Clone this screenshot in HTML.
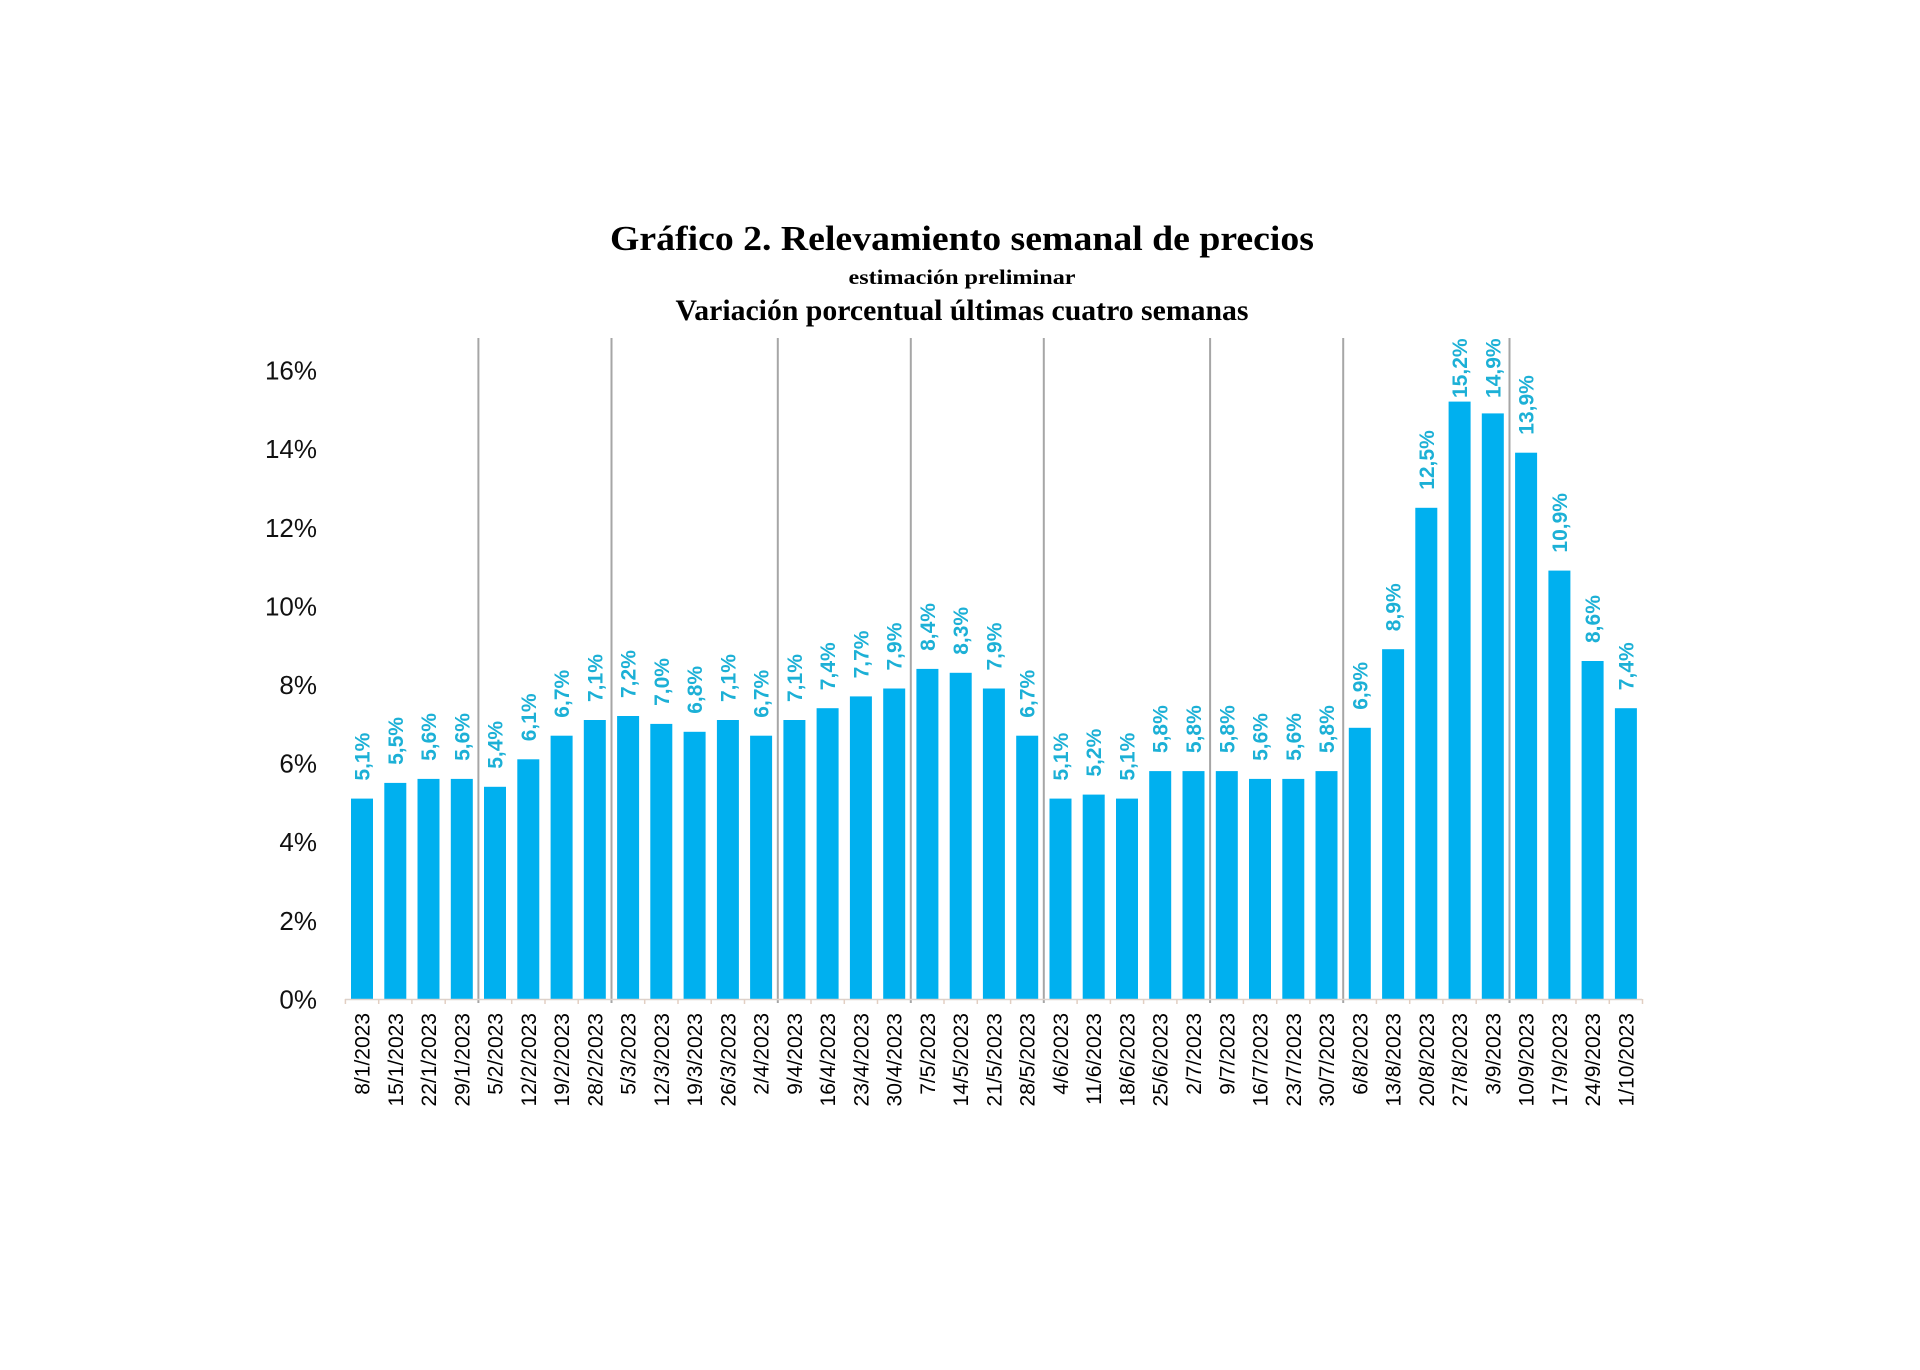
<!DOCTYPE html>
<html>
<head>
<meta charset="utf-8">
<style>
html,body{margin:0;padding:0;background:#ffffff;}
body{width:1920px;height:1370px;overflow:hidden;}
svg{display:block;}
.t{font-family:"Liberation Serif",serif;font-weight:bold;fill:#000;}
.yl{font-family:"Liberation Sans",sans-serif;font-size:26px;fill:#111;text-anchor:end;}
.vl{font-family:"Liberation Sans",sans-serif;font-size:21px;font-weight:bold;fill:#1cb0d6;}
.dl{font-family:"Liberation Sans",sans-serif;font-size:21px;fill:#000;text-anchor:end;}
.b{fill:#00b0ef;}
</style>
</head>
<body>
<svg width="1920" height="1370" viewBox="0 0 1920 1370" xmlns="http://www.w3.org/2000/svg">
<rect width="1920" height="1370" fill="#fff"/>

<!-- Titles -->
<text class="t" x="962" y="250" font-size="35" text-anchor="middle" textLength="704" lengthAdjust="spacingAndGlyphs">Gráfico 2. Relevamiento semanal de precios</text>
<text class="t" x="962" y="284" font-size="21" text-anchor="middle" textLength="227" lengthAdjust="spacingAndGlyphs">estimación preliminar</text>
<text class="t" x="962" y="320" font-size="30" text-anchor="middle" textLength="573" lengthAdjust="spacingAndGlyphs">Variación porcentual últimas cuatro semanas</text>

<!-- Y labels -->
<text class="yl" x="317" y="1008.4">0%</text>
<text class="yl" x="317" y="929.8">2%</text>
<text class="yl" x="317" y="851.2">4%</text>
<text class="yl" x="317" y="772.6">6%</text>
<text class="yl" x="317" y="694">8%</text>
<text class="yl" x="317" y="615.4">10%</text>
<text class="yl" x="317" y="536.8">12%</text>
<text class="yl" x="317" y="458.2">14%</text>
<text class="yl" x="317" y="379.6">16%</text>

<!-- Separators -->
<g stroke="#a6a6a6" stroke-width="2">
<line x1="478.4" y1="338" x2="478.4" y2="1003"/>
<line x1="611.5" y1="338" x2="611.5" y2="1003"/>
<line x1="777.8" y1="338" x2="777.8" y2="1003"/>
<line x1="910.8" y1="338" x2="910.8" y2="1003"/>
<line x1="1043.8" y1="338" x2="1043.8" y2="1003"/>
<line x1="1210.1" y1="338" x2="1210.1" y2="1003"/>
<line x1="1343.2" y1="338" x2="1343.2" y2="1003"/>
<line x1="1509.5" y1="338" x2="1509.5" y2="1003"/>
</g>

<!-- Bars -->
<g class="b">
<rect x="351.0" y="798.6" width="22" height="200.4"/>
<rect x="384.3" y="782.9" width="22" height="216.1"/>
<rect x="417.5" y="778.9" width="22" height="220.1"/>
<rect x="450.8" y="778.9" width="22" height="220.1"/>
<rect x="484.0" y="786.8" width="22" height="212.2"/>
<rect x="517.3" y="759.3" width="22" height="239.7"/>
<rect x="550.6" y="735.7" width="22" height="263.3"/>
<rect x="583.8" y="720.0" width="22" height="279.0"/>
<rect x="617.1" y="716.0" width="22" height="283.0"/>
<rect x="650.3" y="723.9" width="22" height="275.1"/>
<rect x="683.6" y="731.8" width="22" height="267.2"/>
<rect x="716.9" y="720.0" width="22" height="279.0"/>
<rect x="750.1" y="735.7" width="22" height="263.3"/>
<rect x="783.4" y="720.0" width="22" height="279.0"/>
<rect x="816.6" y="708.2" width="22" height="290.8"/>
<rect x="849.9" y="696.4" width="22" height="302.6"/>
<rect x="883.2" y="688.5" width="22" height="310.5"/>
<rect x="916.4" y="668.9" width="22" height="330.1"/>
<rect x="949.7" y="672.8" width="22" height="326.2"/>
<rect x="982.9" y="688.5" width="22" height="310.5"/>
<rect x="1016.2" y="735.7" width="22" height="263.3"/>
<rect x="1049.5" y="798.6" width="22" height="200.4"/>
<rect x="1082.7" y="794.6" width="22" height="204.4"/>
<rect x="1116.0" y="798.6" width="22" height="200.4"/>
<rect x="1149.2" y="771.1" width="22" height="227.9"/>
<rect x="1182.5" y="771.1" width="22" height="227.9"/>
<rect x="1215.8" y="771.1" width="22" height="227.9"/>
<rect x="1249.0" y="778.9" width="22" height="220.1"/>
<rect x="1282.3" y="778.9" width="22" height="220.1"/>
<rect x="1315.5" y="771.1" width="22" height="227.9"/>
<rect x="1348.8" y="727.8" width="22" height="271.2"/>
<rect x="1382.1" y="649.2" width="22" height="349.8"/>
<rect x="1415.3" y="507.8" width="22" height="491.2"/>
<rect x="1448.6" y="401.6" width="22" height="597.4"/>
<rect x="1481.8" y="413.4" width="22" height="585.6"/>
<rect x="1515.1" y="452.7" width="22" height="546.3"/>
<rect x="1548.4" y="570.6" width="22" height="428.4"/>
<rect x="1581.6" y="661.0" width="22" height="338.0"/>
<rect x="1614.9" y="708.2" width="22" height="290.8"/>
</g>

<!-- X axis -->
<line x1="345" y1="999.5" x2="1642" y2="999.5" stroke="#dcd2cc" stroke-width="1.5"/>
<g stroke="#e2cfc2" stroke-width="1.5">
<line x1="345.4" y1="999" x2="345.4" y2="1004"/>
<line x1="378.7" y1="999" x2="378.7" y2="1004"/>
<line x1="411.9" y1="999" x2="411.9" y2="1004"/>
<line x1="445.2" y1="999" x2="445.2" y2="1004"/>
<line x1="511.7" y1="999" x2="511.7" y2="1004"/>
<line x1="545.0" y1="999" x2="545.0" y2="1004"/>
<line x1="578.2" y1="999" x2="578.2" y2="1004"/>
<line x1="644.7" y1="999" x2="644.7" y2="1004"/>
<line x1="678.0" y1="999" x2="678.0" y2="1004"/>
<line x1="711.2" y1="999" x2="711.2" y2="1004"/>
<line x1="744.5" y1="999" x2="744.5" y2="1004"/>
<line x1="811.0" y1="999" x2="811.0" y2="1004"/>
<line x1="844.3" y1="999" x2="844.3" y2="1004"/>
<line x1="877.5" y1="999" x2="877.5" y2="1004"/>
<line x1="944.0" y1="999" x2="944.0" y2="1004"/>
<line x1="977.3" y1="999" x2="977.3" y2="1004"/>
<line x1="1010.6" y1="999" x2="1010.6" y2="1004"/>
<line x1="1077.1" y1="999" x2="1077.1" y2="1004"/>
<line x1="1110.4" y1="999" x2="1110.4" y2="1004"/>
<line x1="1143.6" y1="999" x2="1143.6" y2="1004"/>
<line x1="1176.9" y1="999" x2="1176.9" y2="1004"/>
<line x1="1243.4" y1="999" x2="1243.4" y2="1004"/>
<line x1="1276.7" y1="999" x2="1276.7" y2="1004"/>
<line x1="1309.9" y1="999" x2="1309.9" y2="1004"/>
<line x1="1376.4" y1="999" x2="1376.4" y2="1004"/>
<line x1="1409.7" y1="999" x2="1409.7" y2="1004"/>
<line x1="1442.9" y1="999" x2="1442.9" y2="1004"/>
<line x1="1476.2" y1="999" x2="1476.2" y2="1004"/>
<line x1="1542.7" y1="999" x2="1542.7" y2="1004"/>
<line x1="1576.0" y1="999" x2="1576.0" y2="1004"/>
<line x1="1609.3" y1="999" x2="1609.3" y2="1004"/>
<line x1="1642.5" y1="999" x2="1642.5" y2="1004"/>
</g>

<!-- Value labels -->
<g class="vl">
<text transform="translate(369.5,780.6) rotate(-90)">5,1%</text>
<text transform="translate(402.8,764.9) rotate(-90)">5,5%</text>
<text transform="translate(436.0,760.9) rotate(-90)">5,6%</text>
<text transform="translate(469.3,760.9) rotate(-90)">5,6%</text>
<text transform="translate(502.5,768.8) rotate(-90)">5,4%</text>
<text transform="translate(535.8,741.3) rotate(-90)">6,1%</text>
<text transform="translate(569.1,717.7) rotate(-90)">6,7%</text>
<text transform="translate(602.3,702.0) rotate(-90)">7,1%</text>
<text transform="translate(635.6,698.0) rotate(-90)">7,2%</text>
<text transform="translate(668.8,705.9) rotate(-90)">7,0%</text>
<text transform="translate(702.1,713.8) rotate(-90)">6,8%</text>
<text transform="translate(735.4,702.0) rotate(-90)">7,1%</text>
<text transform="translate(768.6,717.7) rotate(-90)">6,7%</text>
<text transform="translate(801.9,702.0) rotate(-90)">7,1%</text>
<text transform="translate(835.1,690.2) rotate(-90)">7,4%</text>
<text transform="translate(868.4,678.4) rotate(-90)">7,7%</text>
<text transform="translate(901.7,670.5) rotate(-90)">7,9%</text>
<text transform="translate(934.9,650.9) rotate(-90)">8,4%</text>
<text transform="translate(968.2,654.8) rotate(-90)">8,3%</text>
<text transform="translate(1001.4,670.5) rotate(-90)">7,9%</text>
<text transform="translate(1034.7,717.7) rotate(-90)">6,7%</text>
<text transform="translate(1068.0,780.6) rotate(-90)">5,1%</text>
<text transform="translate(1101.2,776.6) rotate(-90)">5,2%</text>
<text transform="translate(1134.5,780.6) rotate(-90)">5,1%</text>
<text transform="translate(1167.7,753.1) rotate(-90)">5,8%</text>
<text transform="translate(1201.0,753.1) rotate(-90)">5,8%</text>
<text transform="translate(1234.3,753.1) rotate(-90)">5,8%</text>
<text transform="translate(1267.5,760.9) rotate(-90)">5,6%</text>
<text transform="translate(1300.8,760.9) rotate(-90)">5,6%</text>
<text transform="translate(1334.0,753.1) rotate(-90)">5,8%</text>
<text transform="translate(1367.3,709.8) rotate(-90)">6,9%</text>
<text transform="translate(1400.6,631.2) rotate(-90)">8,9%</text>
<text transform="translate(1433.8,489.8) rotate(-90)">12,5%</text>
<text transform="translate(1467.1,398.0) rotate(-90)">15,2%</text>
<text transform="translate(1500.3,398.0) rotate(-90)">14,9%</text>
<text transform="translate(1533.6,434.7) rotate(-90)">13,9%</text>
<text transform="translate(1566.9,552.6) rotate(-90)">10,9%</text>
<text transform="translate(1600.1,643.0) rotate(-90)">8,6%</text>
<text transform="translate(1633.4,690.2) rotate(-90)">7,4%</text>
</g>

<!-- Date labels -->
<g class="dl">
<text transform="translate(369.5,1013) rotate(-90)">8/1/2023</text>
<text transform="translate(402.8,1013) rotate(-90)">15/1/2023</text>
<text transform="translate(436.0,1013) rotate(-90)">22/1/2023</text>
<text transform="translate(469.3,1013) rotate(-90)">29/1/2023</text>
<text transform="translate(502.5,1013) rotate(-90)">5/2/2023</text>
<text transform="translate(535.8,1013) rotate(-90)">12/2/2023</text>
<text transform="translate(569.1,1013) rotate(-90)">19/2/2023</text>
<text transform="translate(602.3,1013) rotate(-90)">28/2/2023</text>
<text transform="translate(635.6,1013) rotate(-90)">5/3/2023</text>
<text transform="translate(668.8,1013) rotate(-90)">12/3/2023</text>
<text transform="translate(702.1,1013) rotate(-90)">19/3/2023</text>
<text transform="translate(735.4,1013) rotate(-90)">26/3/2023</text>
<text transform="translate(768.6,1013) rotate(-90)">2/4/2023</text>
<text transform="translate(801.9,1013) rotate(-90)">9/4/2023</text>
<text transform="translate(835.1,1013) rotate(-90)">16/4/2023</text>
<text transform="translate(868.4,1013) rotate(-90)">23/4/2023</text>
<text transform="translate(901.7,1013) rotate(-90)">30/4/2023</text>
<text transform="translate(934.9,1013) rotate(-90)">7/5/2023</text>
<text transform="translate(968.2,1013) rotate(-90)">14/5/2023</text>
<text transform="translate(1001.4,1013) rotate(-90)">21/5/2023</text>
<text transform="translate(1034.7,1013) rotate(-90)">28/5/2023</text>
<text transform="translate(1068.0,1013) rotate(-90)">4/6/2023</text>
<text transform="translate(1101.2,1013) rotate(-90)">11/6/2023</text>
<text transform="translate(1134.5,1013) rotate(-90)">18/6/2023</text>
<text transform="translate(1167.7,1013) rotate(-90)">25/6/2023</text>
<text transform="translate(1201.0,1013) rotate(-90)">2/7/2023</text>
<text transform="translate(1234.3,1013) rotate(-90)">9/7/2023</text>
<text transform="translate(1267.5,1013) rotate(-90)">16/7/2023</text>
<text transform="translate(1300.8,1013) rotate(-90)">23/7/2023</text>
<text transform="translate(1334.0,1013) rotate(-90)">30/7/2023</text>
<text transform="translate(1367.3,1013) rotate(-90)">6/8/2023</text>
<text transform="translate(1400.6,1013) rotate(-90)">13/8/2023</text>
<text transform="translate(1433.8,1013) rotate(-90)">20/8/2023</text>
<text transform="translate(1467.1,1013) rotate(-90)">27/8/2023</text>
<text transform="translate(1500.3,1013) rotate(-90)">3/9/2023</text>
<text transform="translate(1533.6,1013) rotate(-90)">10/9/2023</text>
<text transform="translate(1566.9,1013) rotate(-90)">17/9/2023</text>
<text transform="translate(1600.1,1013) rotate(-90)">24/9/2023</text>
<text transform="translate(1633.4,1013) rotate(-90)">1/10/2023</text>
</g>
</svg>
</body>
</html>
